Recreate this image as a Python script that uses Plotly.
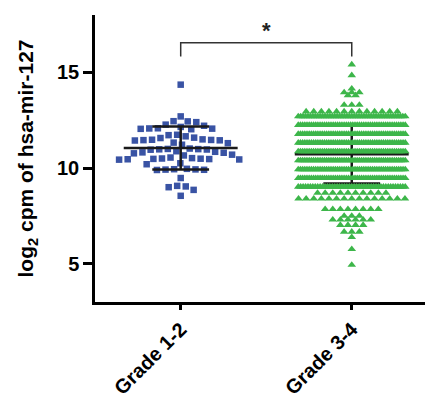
import math
import plotly.graph_objects as go

# ---------------- data ----------------
categories = ["Grade 1-2", "Grade 3-4"]

# Grade 1-2: individual values (log2 cpm)
grade12_values = [
    14.36,
    12.70, 12.44, 12.27, 12.45, 12.40, 12.21, 12.15, 12.07, 12.05, 12.08, 12.03, 12.06,
    11.74, 11.59, 11.57, 11.33, 11.30, 11.46, 11.47, 11.50, 11.45, 11.44, 11.48, 11.72, 11.66, 11.22,
    10.85, 10.88, 10.98, 10.99, 10.96, 10.97, 11.00, 11.02, 10.70, 10.66, 10.77, 10.80, 10.82,
    10.49, 10.47, 10.45, 10.46, 10.48, 10.44, 10.52, 10.50, 10.55, 10.25, 10.20,
    9.91, 9.93, 9.90, 9.92, 9.96, 9.94,
    9.48, 9.04, 9.00, 9.07, 8.86, 8.55,
]

# Grade 3-4: value levels (rows of the dot plot) and number of samples per row
grade34_levels = [15.41, 14.85, 14.15, 13.95, 13.80, 13.30, 12.95,
                  12.70, 12.25, 11.78, 11.32, 10.87, 10.40, 9.93, 9.47, 9.02, 8.70,
                  8.40, 7.85, 7.50, 7.30, 7.02, 6.67, 6.39, 5.76, 4.94]
grade34_counts = [1, 1, 1, 3, 2, 3, 13,
                  45, 50, 50, 50, 50, 50, 50, 50, 45, 10,
                  15, 8, 3, 6, 4, 3, 1, 1, 1]

# mean and SD drawn as the error bars
group_means = [11.05, 10.72]
group_sds = [1.12, 1.53]

y_ticks = [5, 10, 15]

# ---------------- layout helpers (positions only) ----------------
# the page body adds an 8px offset, so the figure is 8px smaller than the window
W, H = 425, 389
ML, MR, MT, MB = 87, 0, 7, 95
X_RANGE = [-0.501, 1.475]
Y_RANGE = [3, 18]
px_per_x = (W - ML - MR) / (X_RANGE[1] - X_RANGE[0])
px_per_y = (H - MT - MB) / (Y_RANGE[1] - Y_RANGE[0])


def swarm_offsets(vals, d_px):
    """Classic beeswarm: each point at the smallest |x| free of collisions."""
    order = sorted(range(len(vals)), key=lambda i: -vals[i])
    placed = []
    out = [0.0] * len(vals)
    for i in order:
        y = vals[i] * px_per_y
        intervals = []
        for (px, py) in placed:
            dy = abs(py - y)
            if dy < d_px:
                h = math.sqrt(d_px * d_px - dy * dy)
                intervals.append((px - h, px + h))
        cands = [0.0] + [a for a, b in intervals] + [b for a, b in intervals]
        cands.sort(key=lambda c: (abs(c), c))
        best = 0.0
        for c in cands:
            if all(not (a + 1e-6 < c < b - 1e-6) for a, b in intervals):
                best = c
                break
        placed.append((best, y))
        out[i] = best / px_per_x
    return out


def row_offsets(n, step_px=7.6, half_px=53.5):
    if n == 1:
        return [0.0]
    step = min(step_px, 2 * half_px / (n - 1))
    return [((k - (n - 1) / 2) * step) / px_per_x for k in range(n)]


FONT = "Arial, Liberation Sans, Helvetica, sans-serif"
fig = go.Figure()


def bar_traces(xc, m, s, color="#1a1a1a"):
    tr = []
    hw, cw = 0.333, 0.166
    tr.append(go.Scatter(x=[xc - hw, xc + hw], y=[m, m], mode="lines",
                         line=dict(color=color, width=2.5), hoverinfo="skip", showlegend=False))
    tr.append(go.Scatter(x=[xc, xc], y=[m - s, m + s], mode="lines",
                         line=dict(color=color, width=2.5), hoverinfo="skip", showlegend=False))
    for yy in (m - s, m + s):
        tr.append(go.Scatter(x=[xc - cw, xc + cw], y=[yy, yy], mode="lines",
                             line=dict(color=color, width=2.5), hoverinfo="skip", showlegend=False))
    return tr


# Grade 3-4 error bars (behind the points)
for t in bar_traces(1, group_means[1], group_sds[1]):
    fig.add_trace(t)

# Grade 3-4 points
g2x, g2y = [], []
for lvl, cnt in zip(grade34_levels, grade34_counts):
    for off in row_offsets(cnt):
        g2x.append(1 + off)
        g2y.append(lvl)
fig.add_trace(go.Scatter(x=g2x, y=g2y, mode="markers", name=categories[1],
                         marker=dict(symbol="triangle-up", size=7.5, color="#3db64a",
                                     line=dict(width=0)),
                         showlegend=False))

# Grade 1-2 points
g1off = swarm_offsets(grade12_values, 8.6)
fig.add_trace(go.Scatter(x=[0 + o for o in g1off], y=grade12_values, mode="markers",
                         name=categories[0],
                         marker=dict(symbol="square", size=6.5, color="#3953a4",
                                     line=dict(width=0)),
                         showlegend=False))

for t in bar_traces(0, group_means[0], group_sds[0]):
    fig.add_trace(t)

# significance bracket
sig_top, sig_bottom = 16.55, 15.83
fig.add_shape(type="path", xref="x", yref="y",
              path=f"M 0 {sig_bottom} L 0 {sig_top} L 1 {sig_top} L 1 {sig_bottom}",
              line=dict(color="#333333", width=1.5))
fig.add_annotation(x=0.5, y=17.2, xref="x", yref="y", text="<b>*</b>", showarrow=False,
                   font=dict(size=22, family=FONT, color="#222"), yanchor="middle")

fig.update_layout(
    width=W, height=H,
    margin=dict(l=ML, r=MR, t=MT, b=MB, pad=0),
    plot_bgcolor="white", paper_bgcolor="white",
    font=dict(family=FONT, color="black"),
    xaxis=dict(range=X_RANGE, tickmode="array", tickvals=[0, 1], ticktext=categories,
               tickangle=-45, showline=True, linecolor="black", linewidth=2.5,
               ticks="outside", ticklen=5, tickwidth=2.5, tickcolor="black",
               showgrid=False, zeroline=False, automargin=False,
               tickfont=dict(size=20, family=FONT, color="black", weight="bold")),
    yaxis=dict(range=Y_RANGE, tickmode="array", tickvals=y_ticks,
               showline=True, linecolor="black", linewidth=2.5,
               ticks="outside", ticklen=9, tickwidth=2.5, tickcolor="black",
               showgrid=False, zeroline=False, automargin=False,
               tickfont=dict(size=20, family=FONT, color="black", weight="bold"),
               title=dict(text="log<sub>2</sub> cpm of hsa-mir-127",
                          font=dict(size=21, family=FONT, color="black", weight="bold"),
                          standoff=18)),
)

fig.write_html("out.html")
